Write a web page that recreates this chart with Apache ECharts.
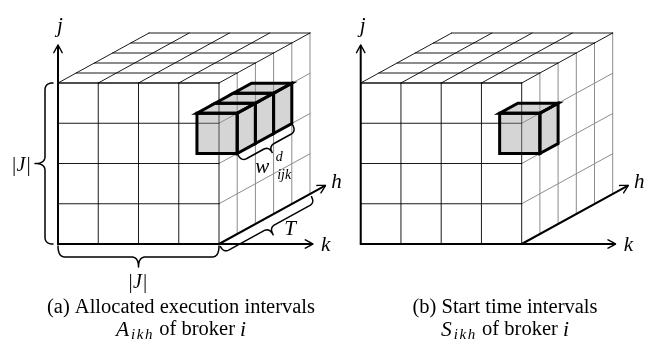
<!DOCTYPE html>
<html><head><meta charset="utf-8">
<script src="https://cdn.jsdelivr.net/npm/echarts@6/dist/echarts.min.js"></script>
<style>html,body{margin:0;padding:0;background:#fff}#c{width:647px;height:345px}</style>
</head><body><div id="c"></div>
<script>
// ---- data ----
const gridCells = [4, 4, 5];              // cells along k, j, h
const axisLengths = [6.33, 4.94, 5.85];   // k, j, h axis lengths (cell units)
const cellsA = [[3, 2, 1], [3, 2, 2], [3, 2, 3]]; // allocated execution intervals [k, j, h]
const cellsB = [[3, 2, 1]];                      // start time interval [k, j, h]
const axisNames = ['k', 'j', 'h'];
const braceLabels = ['|J|', '|J|', 'T', 'w'];
const captionA = ['(a) Allocated execution intervals', 'A', 'ikh', ' of broker ', 'i'];
const captionB = ['(b) Start time intervals', 'S', 'ikh', ' of broker ', 'i'];

// ---- projection (oblique) ----
const DX = 18.2 / 40.25, DY = 10 / 40.25;
function P(api, k, j, h) { return api.coord([k + h * DX, j + h * DY]); }
const SERIF = '"Liberation Serif", "Times New Roman", serif';
const MATH = 'italic 21px ' + SERIF;
const GRAY = '#8c8c8c';

function ln(ch, a, b, stroke, w) {
  ch.push({ type: 'line', shape: { x1: a[0], y1: a[1], x2: b[0], y2: b[1] }, style: { stroke: stroke, lineWidth: w, lineCap: 'round' } });
}
function quadPts(p0, c, p1, n) {
  n = n || 10; const out = [];
  for (let i = 1; i <= n; i++) {
    const t = i / n, a = (1 - t) * (1 - t), b = 2 * (1 - t) * t, d = t * t;
    out.push([a * p0[0] + b * c[0] + d * p1[0], a * p0[1] + b * c[1] + d * p1[1]]);
  }
  return out;
}
function brace(A, B, off, s, t, r) {
  const L = Math.hypot(B[0] - A[0], B[1] - A[1]);
  const u = [(B[0] - A[0]) / L, (B[1] - A[1]) / L];
  const n = [-u[1], u[0]];
  const m = (x, y) => [A[0] + u[0] * x + n[0] * (y + off), A[1] + u[1] * x + n[1] * (y + off)];
  const pts = [m(0, 0)];
  pts.push(...quadPts(m(0, 0), m(0, s), m(r, s)));
  pts.push(m(L / 2 - r, s));
  pts.push(...quadPts(m(L / 2 - r, s), m(L / 2, s), m(L / 2, t)));
  pts.push(...quadPts(m(L / 2, t), m(L / 2, s), m(L / 2 + r, s)));
  pts.push(m(L - r, s));
  pts.push(...quadPts(m(L - r, s), m(L, s), m(L, 0)));
  return { pts: pts, tip: m(L / 2, t), n: n, u: u };
}
function arrow(ch, from, to) {
  const L = Math.hypot(to[0] - from[0], to[1] - from[1]);
  const u = [(to[0] - from[0]) / L, (to[1] - from[1]) / L];
  const n = [-u[1], u[0]];
  const q = (a, b) => [to[0] + u[0] * a + n[0] * b, to[1] + u[1] * a + n[1] * b];
  ln(ch, from, q(-0.8, 0), '#000', 2);
  [1, -1].forEach(sg => {
    const pts = [q(-7.5, 4.2 * sg)].concat(quadPts(q(-7.5, 4.2 * sg), q(-2.5, 1.6 * sg), q(0, 0), 8));
    ch.push({ type: 'polyline', shape: { points: pts }, style: { stroke: '#000', lineWidth: 1.4, fill: null, lineCap: 'round' } });
  });
}
function txt(ch, x, y, text, font, align) {
  ch.push({ type: 'text', x: x, y: y, style: { text: text, font: font, fill: '#000', align: align || 'center', verticalAlign: 'middle' } });
}

function renderCube(params, api) {
  const nk = api.value(0), nj = api.value(1), nh = api.value(2);
  const ch = [];
  for (let h = 1; h <= nh; h++) ln(ch, P(api, nk, 0, h), P(api, nk, nj, h), GRAY, 1);
  for (let j = 0; j < nj; j++) ln(ch, P(api, nk, j, 0), P(api, nk, j, nh), GRAY, 1);
  for (let k = 0; k <= nk; k++) ln(ch, P(api, k, nj, 0), P(api, k, nj, nh), '#000', 0.9);
  for (let h = 0; h <= nh; h++) ln(ch, P(api, 0, nj, h), P(api, nk, nj, h), '#000', 0.9);
  for (let k = 0; k <= nk; k++) ln(ch, P(api, k, 0, 0), P(api, k, nj, 0), '#000', 0.9);
  for (let j = 0; j <= nj; j++) ln(ch, P(api, 0, j, 0), P(api, nk, j, 0), '#000', 0.9);
  return { type: 'group', children: ch };
}

function renderAxes(params, api) {
  const kl = api.value(0), jl = api.value(1), hl = api.value(2), nk = api.value(3);
  const ch = [];
  const o = P(api, 0, 0, 0);
  const jt = P(api, 0, jl, 0), kt = P(api, kl, 0, 0), hs = P(api, nk, 0, 0), ht = P(api, nk, 0, hl);
  arrow(ch, o, jt); arrow(ch, o, kt); arrow(ch, hs, ht);
  txt(ch, jt[0] + 2, jt[1] - 19, axisNames[1], MATH);
  txt(ch, kt[0] + 13, kt[1] + 1, axisNames[0], MATH);
  txt(ch, ht[0] + 11, ht[1] - 3, axisNames[2], MATH);
  return { type: 'group', children: ch };
}

function renderBox(params, api) {
  const k = api.value(0), j = api.value(1), h = api.value(2), front = api.value(3);
  const p = (a, b, c) => P(api, k + a, j + b, h + c);
  const faces = [];
  if (front) faces.push([p(0, 0, 0), p(1, 0, 0), p(1, 1, 0), p(0, 1, 0)]);
  faces.push([p(0, 1, 0), p(1, 1, 0), p(1, 1, 1), p(0, 1, 1)]);
  faces.push([p(1, 0, 0), p(1, 0, 1), p(1, 1, 1), p(1, 1, 0)]);
  const ch = [];
  faces.forEach(f => ch.push({ type: 'polygon', shape: { points: f }, style: { fill: 'rgba(150,150,150,0.40)', stroke: null } }));
  faces.forEach(f => ch.push({ type: 'polygon', shape: { points: f }, style: { fill: null, stroke: '#000', lineWidth: 3, lineJoin: 'miter' } }));
  return { type: 'group', children: ch };
}

function renderBraces(params, api) {
  const nk = api.value(0), nj = api.value(1), nh = api.value(2);
  const bk = api.value(3), bj = api.value(4), bh0 = api.value(5), bh1 = api.value(6);
  const ch = [];
  const draw = b => ch.push({ type: 'polyline', shape: { points: b.pts }, style: { stroke: '#000', lineWidth: 1.5, fill: null, lineJoin: 'round', lineCap: 'round' } });
  const b1 = brace(P(api, 0, nj, 0), P(api, 0, 0, 0), 5, 8, 18, 7); draw(b1);
  txt(ch, b1.tip[0] - 14, b1.tip[1] + 2, braceLabels[0], 'italic 20px ' + SERIF);
  const b2 = brace(P(api, 0, 0, 0), P(api, nk, 0, 0), 2, 11, 21, 7); draw(b2);
  txt(ch, b2.tip[0] - 1, b2.tip[1] + 16, braceLabels[1], 'italic 20px ' + SERIF);
  const b3 = brace(P(api, nk, 0, 0), P(api, nk, 0, nh), 3, 7, 15, 6); draw(b3);
  txt(ch, b3.tip[0] + 17, b3.tip[1] - 5, braceLabels[2], MATH);
  const b4 = brace(P(api, bk + 1, bj, bh0), P(api, bk + 1, bj, bh1 + 1), 2, 7, 14, 6); draw(b4);
  const w = [b4.tip[0] - 10, b4.tip[1] + 15];
  txt(ch, w[0], w[1], braceLabels[3], MATH);
  txt(ch, w[0] + 17, w[1] - 10, 'd', 'italic 14px ' + SERIF);
  txt(ch, w[0] + 22, w[1] + 8, 'ijk', 'italic 14px ' + SERIF);
  return { type: 'group', children: ch };
}

// caption layout via measured text
const mctx = document.createElement('canvas').getContext('2d');
function measure(t, f) { mctx.font = f; return mctx.measureText(t).width; }
function captionGraphics(cap, cx) {
  const R = '20.5px ' + SERIF, I = 'italic 21.5px ' + SERIF, S = 'italic 15px ' + SERIF;
  const els = [];
  els.push({ type: 'text', x: cx, y: 308, style: { text: cap[0], font: R, fill: '#000', align: 'center', verticalAlign: 'middle' } });
  const parts = [[cap[1], I, 0, 2]];
  cap[2].split('').forEach(ch => parts.push([ch, S, 5, 1.6]));
  parts.push([cap[3], R, 0, 0], [cap[4], I, 0, 0]);
  const total = parts.reduce((s, p) => s + measure(p[0], p[1]) + p[3], 0);
  let x = cx - total / 2;
  parts.forEach(p => {
    els.push({ type: 'text', x: x, y: 330 + p[2], style: { text: p[0], font: p[1], fill: '#000', align: 'left', verticalAlign: 'middle' } });
    x += measure(p[0], p[1]) + p[3];
  });
  return els;
}

const chart = echarts.init(document.getElementById('c'), null, { renderer: 'canvas' });
const boxData = cells => cells.map(c => [c[0], c[1], c[2], cells.some(d => d[0] === c[0] && d[1] === c[1] && d[2] === c[2] - 1) ? 0 : 1]);
const hs = cellsA.map(c => c[2]);
const series = [];
[0, 1].forEach(i => {
  series.push({ type: 'custom', xAxisIndex: i, yAxisIndex: i, renderItem: renderCube, data: [gridCells], silent: true, z: 1 });
  series.push({ type: 'custom', xAxisIndex: i, yAxisIndex: i, renderItem: renderAxes, data: [[axisLengths[0], axisLengths[1], axisLengths[2], gridCells[0]]], silent: true, z: 3 });
  series.push({ type: 'custom', xAxisIndex: i, yAxisIndex: i, renderItem: renderBox, data: boxData(i === 0 ? cellsA : cellsB), silent: true, z: 2 });
});
series.push({ type: 'custom', xAxisIndex: 0, yAxisIndex: 0, renderItem: renderBraces,
  data: [[gridCells[0], gridCells[1], gridCells[2], cellsA[0][0], cellsA[0][1], Math.min(...hs), Math.max(...hs)]], silent: true, z: 4 });

chart.setOption({
  animation: false,
  backgroundColor: '#fff',
  grid: [
    { left: 58, top: 83, width: 161, height: 161 },
    { left: 360.7, top: 83, width: 161, height: 161 }
  ],
  xAxis: [0, 1].map(i => ({ type: 'value', gridIndex: i, min: 0, max: 4, show: false })),
  yAxis: [0, 1].map(i => ({ type: 'value', gridIndex: i, min: 0, max: 4, show: false })),
  series: series,
  graphic: captionGraphics(captionA, 181).concat(captionGraphics(captionB, 505))
});
</script></body></html>
